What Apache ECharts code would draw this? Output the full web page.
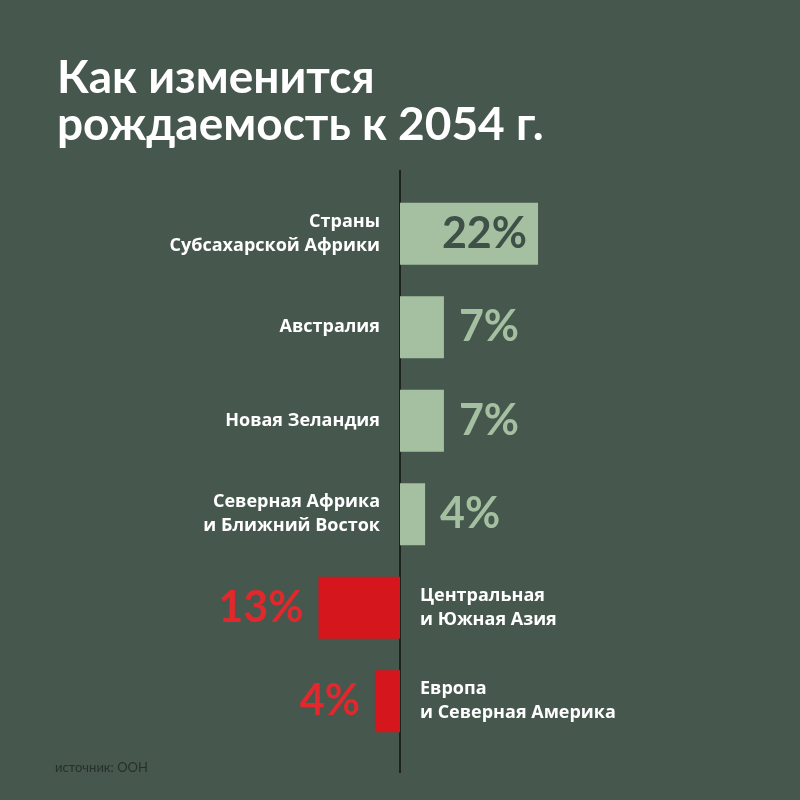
<!DOCTYPE html>
<html>
<head>
<meta charset="utf-8">
<script src="https://cdn.jsdelivr.net/npm/echarts@6/dist/echarts.min.js"></script>
<style>html,body{margin:0;padding:0;background:#46574e;}#c{width:800px;height:800px;}</style>
</head>
<body>
<div id="c"></div>
<script>
const categories = [
  "Страны\nСубсахарской Африки",
  "Австралия",
  "Новая Зеландия",
  "Северная Африка\nи Ближний Восток",
  "Центральная\nи Южная Азия",
  "Европа\nи Северная Америка"
];
const values = [22, 7, 7, 4, -13, -4];
const titleText = "Как изменится\nрождаемость к 2054 г.";
const sourceText = "источник: ООН";

const FONT = "Lato, 'Open Sans', sans-serif";
const LABEL_FONT = "'Open Sans', sans-serif";
const GREEN = "#a5c0a0";
const RED = "#d5161d";
const RED_TXT = "#e0282d";
const DARK_TXT = "#3e5047";

const chart = echarts.init(document.getElementById('c'), null, {renderer: 'canvas'});

const valueData = values.map((v, i) => {
  const pos = v >= 0;
  const inside = i === 0;
  return {
    value: v,
    itemStyle: {color: pos ? GREEN : RED},
    label: {
      show: true,
      position: pos ? (inside ? 'insideRight' : 'right') : 'left',
      distance: inside ? 11 : 15,
      formatter: Math.abs(v) + '%',
      color: pos ? (inside ? DARK_TXT : GREEN) : RED_TXT,
      fontSize: 43,
      fontWeight: 'bold',
      fontFamily: FONT
    }
  };
});

const nameData = values.map((v, i) => ({
  value: v,
  label: {
    show: true,
    position: v >= 0 ? 'left' : 'right',
    distance: 20,
    formatter: categories[i],
    color: '#ffffff',
    fontSize: 18,
    fontWeight: 'bold',
    lineHeight: 24,
    fontFamily: LABEL_FONT
  }
}));

chart.setOption({
  backgroundColor: '#46574e',
  animation: false,
  title: {
    text: titleText,
    left: 52,
    top: 50,
    textStyle: {color: '#ffffff', fontSize: 46, fontWeight: 'bold', lineHeight: 47, fontFamily: FONT}
  },
  grid: {left: 149, right: 149, top: 187, bottom: 52, containLabel: false},
  xAxis: {
    type: 'value', min: -40, max: 40,
    show: false
  },
  yAxis: {
    type: 'category', data: categories, inverse: true,
    axisLine: {show: false}, axisTick: {show: false}, axisLabel: {show: false}, splitLine: {show: false}
  },
  series: [
    {type: 'bar', data: valueData, barWidth: 62, barGap: '-100%'},
    {type: 'bar', data: nameData, barWidth: 62, barGap: '-100%', itemStyle: {color: 'rgba(0,0,0,0)'}, silent: true}
  ]
});

const x0 = chart.convertToPixel({xAxisIndex: 0}, 0);
chart.setOption({
  graphic: [
    {type: 'line', shape: {x1: x0, y1: 170, x2: x0, y2: 773}, style: {stroke: '#111111', lineWidth: 1.5}},
    {type: 'text', left: 55, top: 761, style: {text: sourceText, fill: '#26302b', fontSize: 13, fontFamily: FONT}}
  ]
});
</script>
</body>
</html>
